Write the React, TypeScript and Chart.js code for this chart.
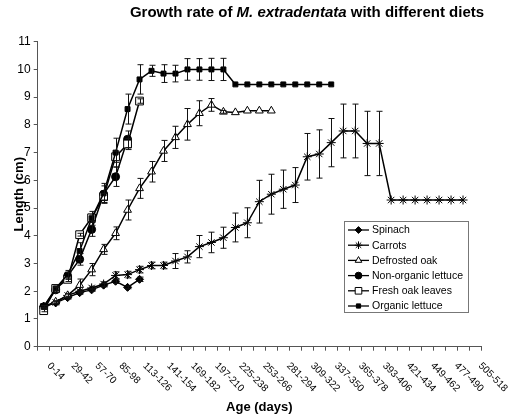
import React, { useEffect, useRef } from 'react';
import { Chart, registerables } from 'chart.js';
import { drawPoint } from 'chart.js/helpers';

Chart.register(...registerables);

// ---------- data ----------
const ageLabels = [
  '0-14', '15-28', '29-42', '43-56', '57-70', '71-84', '85-98', '99-112',
  '113-126', '127-140', '141-154', '155-168', '169-182', '183-196', '197-210',
  '211-224', '225-238', '239-252', '253-266', '267-280', '281-294', '295-308',
  '309-322', '323-336', '337-350', '351-364', '365-378', '379-392', '393-406',
  '407-420', '421-434', '435-448', '449-462', '463-476', '477-490', '491-504',
  '505-518',
];

const yMin = 0;
const yMax = 11;

const spinach = [1.44, 1.58, 1.77, 1.95, 2.05, 2.22, 2.36, 2.14, 2.43];
const spinachErr = [0.04, 0.04, 0.05, 0.05, 0.05, 0.06, 0.08, 0.05, 0.08];

const carrots = [
  1.44, 1.6, 1.85, 2.0, 2.12, 2.26, 2.57, 2.6, 2.78, 2.93, 2.93, 3.09, 3.24,
  3.61, 3.76, 3.93, 4.3, 4.47, 5.23, 5.5, 5.68, 5.83, 6.85, 6.95, 7.36, 7.78,
  7.78, 7.33, 7.33, 5.29, 5.29, 5.29, 5.29, 5.29, 5.29, 5.29,
];
const carrotsErr = [
  0, 0.04, 0.05, 0.05, 0.06, 0.08, 0.13, 0.12, 0.12, 0.12, 0.12, 0.27, 0.22,
  0.4, 0.37, 0.38, 0.52, 0.54, 0.77, 0.72, 0.69, 0.63, 0.84, 0.87, 0.87, 0.97,
  0.97, 1.16, 1.16, 0, 0, 0, 0, 0, 0, 0,
];

const defrostedOak = [
  1.44, 1.62, 1.85, 2.22, 2.78, 3.51, 4.09, 4.93, 5.71, 6.31, 7.06, 7.55,
  8.02, 8.42, 8.72, 8.47, 8.45, 8.51, 8.51, 8.51,
];
const defrostedOakErr = [
  0.04, 0.04, 0.06, 0.22, 0.22, 0.18, 0.23, 0.36, 0.36, 0.37, 0.38, 0.4,
  0.57, 0.45, 0.23, 0.05, 0, 0, 0, 0,
];

const nonOrganicLettuce = [1.44, 2.05, 2.55, 3.15, 4.23, 5.5, 6.13, 7.48];
const nonOrganicLettuceErr = [0.04, 0.08, 0.12, 0.21, 0.25, 0.3, 0.35, 0.3];

const freshOakLeaves = [1.3, 2.1, 2.43, 4.04, 4.65, 5.41, 6.85, 7.31, 8.86];
const freshOakLeavesErr = [0.04, 0.06, 0.08, 0.05, 0.1, 0.12, 0.2, 0.2, 0.08];

const organicLettuce = [
  1.44, 2.1, 2.6, 3.45, 4.63, 5.53, 7.0, 8.57, 9.64, 9.95, 9.85, 9.85, 10.0,
  10.0, 10.0, 10.0, 9.46, 9.46, 9.46, 9.46, 9.46, 9.46, 9.46, 9.46, 9.46,
];
const organicLettuceErr = [
  0.04, 0.08, 0.15, 0.3, 0.25, 0.36, 0.52, 0.54, 0.53, 0.2, 0.32, 0.3, 0.39,
  0.39, 0.4, 0.4, 0, 0, 0, 0, 0, 0, 0, 0, 0,
];

const chartTitleParts = [
  { text: 'Growth rate of ', italic: false },
  { text: 'M. extradentata', italic: true },
  { text: ' with different diets', italic: false },
];
const yAxisTitle = 'Length (cm)';
const xAxisTitle = 'Age (days)';

// ---------- styles ----------
const FONT = '"Liberation Sans", Arial, Helvetica, sans-serif';

type SeriesDef = {
  label: string;
  values: number[];
  errors: number[];
  pointStyle: string;
  radius: number;
  fill: string;
};

const series: SeriesDef[] = [
  { label: 'Spinach', values: spinach, errors: spinachErr, pointStyle: 'rectRot', radius: 4, fill: '#000' },
  { label: 'Carrots', values: carrots, errors: carrotsErr, pointStyle: 'star', radius: 4.5, fill: '#000' },
  { label: 'Defrosted oak', values: defrostedOak, errors: defrostedOakErr, pointStyle: 'triangle', radius: 4.5, fill: '#fff' },
  { label: 'Non-organic lettuce', values: nonOrganicLettuce, errors: nonOrganicLettuceErr, pointStyle: 'circle', radius: 4, fill: '#000' },
  { label: 'Fresh oak leaves', values: freshOakLeaves, errors: freshOakLeavesErr, pointStyle: 'rect', radius: 5.5, fill: '#fff' },
  { label: 'Organic lettuce', values: organicLettuce, errors: organicLettuceErr, pointStyle: 'rect', radius: 3.5, fill: '#000' },
];

const pad = (arr: number[]) => ageLabels.map((_, i) => (i < arr.length ? arr[i] : null));

const errorBarPlugin = {
  id: 'errorBars',
  afterDatasetsDraw(chart: any) {
    const { ctx } = chart;
    const ys = chart.scales.y;
    ctx.save();
    ctx.strokeStyle = '#111';
    ctx.lineWidth = 1;
    series.forEach((s, di) => {
      const meta = chart.getDatasetMeta(di);
      s.errors.forEach((e, i) => {
        if (!e) return;
        const pt = meta.data[i];
        if (!pt) return;
        const v = s.values[i];
        const x = Math.round(pt.x) + 0.5;
        const y1 = ys.getPixelForValue(v + e);
        const y2 = ys.getPixelForValue(v - e);
        ctx.beginPath();
        ctx.moveTo(x, y1);
        ctx.lineTo(x, y2);
        ctx.moveTo(x - 3, y1);
        ctx.lineTo(x + 3, y1);
        ctx.moveTo(x - 3, y2);
        ctx.lineTo(x + 3, y2);
        ctx.stroke();
      });
    });
    ctx.restore();
  },
};

const decorPlugin = {
  id: 'decor',
  afterDraw(chart: any) {
    const { ctx, chartArea } = chart;
    const xs = chart.scales.x;
    ctx.save();
    ctx.fillStyle = '#000';

    // x tick labels, every other category, rotated 45deg clockwise
    ctx.font = `10px ${FONT}`;
    ctx.textAlign = 'left';
    ctx.textBaseline = 'middle';
    ageLabels.forEach((lab, i) => {
      if (i % 2 !== 0) return;
      const x = xs.getPixelForValue(i);
      ctx.save();
      ctx.translate(x + 5, xs.top + 17.5);
      ctx.rotate(Math.PI / 4);
      ctx.fillText(lab, 0, 0);
      ctx.restore();
    });

    // x axis title
    ctx.font = `bold 13px ${FONT}`;
    ctx.textAlign = 'center';
    ctx.textBaseline = 'middle';
    ctx.fillText(xAxisTitle, (chartArea.left + chartArea.right) / 2, 407);

    // y axis title
    ctx.save();
    ctx.translate(19, (chartArea.top + chartArea.bottom) / 2);
    ctx.rotate(-Math.PI / 2);
    ctx.fillText(yAxisTitle, 0, 0);
    ctx.restore();

    // chart title with italic species name
    const fontFor = (it: boolean) => `${it ? 'italic ' : ''}bold 15px ${FONT}`;
    let total = 0;
    chartTitleParts.forEach((p) => {
      ctx.font = fontFor(p.italic);
      total += ctx.measureText(p.text).width;
    });
    let tx = 307 - total / 2;
    ctx.textAlign = 'left';
    chartTitleParts.forEach((p) => {
      ctx.font = fontFor(p.italic);
      ctx.fillText(p.text, tx, 13);
      tx += ctx.measureText(p.text).width;
    });

    // legend
    const lx = 344, ly = 221, lw = 124, lh = 91;
    ctx.fillStyle = '#fff';
    ctx.fillRect(lx, ly, lw, lh);
    ctx.strokeStyle = '#777';
    ctx.lineWidth = 1;
    ctx.strokeRect(lx + 0.5, ly + 0.5, lw, lh);
    ctx.font = `10.5px ${FONT}`;
    ctx.textBaseline = 'middle';
    ctx.textAlign = 'left';
    series.forEach((s, i) => {
      const y = 230 + i * 15.2;
      ctx.strokeStyle = '#000';
      ctx.lineWidth = 1.3;
      ctx.beginPath();
      ctx.moveTo(348, y);
      ctx.lineTo(369, y);
      ctx.stroke();
      ctx.fillStyle = s.fill;
      ctx.lineWidth = 1;
      drawPoint(ctx, { pointStyle: s.pointStyle as any, radius: s.radius * 0.85, rotation: 0, borderWidth: 1 }, 358.5, y);
      ctx.fillStyle = '#000';
      ctx.fillText(s.label, 372, y + 0.5);
    });

    ctx.restore();
  },
};

export default function App() {
  const ref = useRef<HTMLCanvasElement | null>(null);

  useEffect(() => {
    if (!ref.current) return;
    const chart = new Chart(ref.current, {
      type: 'line',
      data: {
        labels: ageLabels,
        datasets: series.map((s, i) => ({
          label: s.label,
          data: pad(s.values),
          borderColor: '#000',
          borderWidth: 1.5,
          backgroundColor: s.fill,
          pointBackgroundColor: s.fill,
          pointBorderColor: '#000',
          pointBorderWidth: 1,
          pointStyle: s.pointStyle as any,
          pointRadius: s.radius,
          pointHoverRadius: s.radius,
          tension: 0,
          fill: false,
          spanGaps: false,
          order: series.length - i,
        })),
      },
      options: {
        responsive: false,
        animation: false,
        layout: { padding: { top: 41.7, right: 29, bottom: 0, left: 0 } },
        plugins: {
          legend: { display: false },
          title: { display: false },
          tooltip: { enabled: false },
        },
        scales: {
          x: {
            type: 'category',
            offset: true,
            grid: {
              display: true,
              drawOnChartArea: false,
              drawTicks: true,
              tickLength: 4,
              offset: true,
              color: '#555',
            },
            border: { display: true, color: '#555', width: 1 },
            ticks: { display: false, autoSkip: false },
            afterFit: (scale: any) => {
              scale.height = 73.3;
            },
          },
          y: {
            min: yMin,
            max: yMax,
            grid: {
              display: true,
              drawOnChartArea: false,
              drawTicks: true,
              tickLength: 4,
              color: '#555',
            },
            border: { display: true, color: '#555', width: 1 },
            ticks: {
              stepSize: 1,
              color: '#000',
              padding: 3,
              font: { family: FONT, size: 12 },
            },
            afterFit: (scale: any) => {
              scale.width = 37.7;
            },
          },
        },
      },
      plugins: [errorBarPlugin, decorPlugin],
    });
    return () => chart.destroy();
  }, []);

  return (
    <div style={{ position: 'absolute', left: 0, top: 0, width: 510, height: 420, background: '#fff' }}>
      <canvas ref={ref} width={510} height={420} style={{ display: 'block' }} />
    </div>
  );
}
